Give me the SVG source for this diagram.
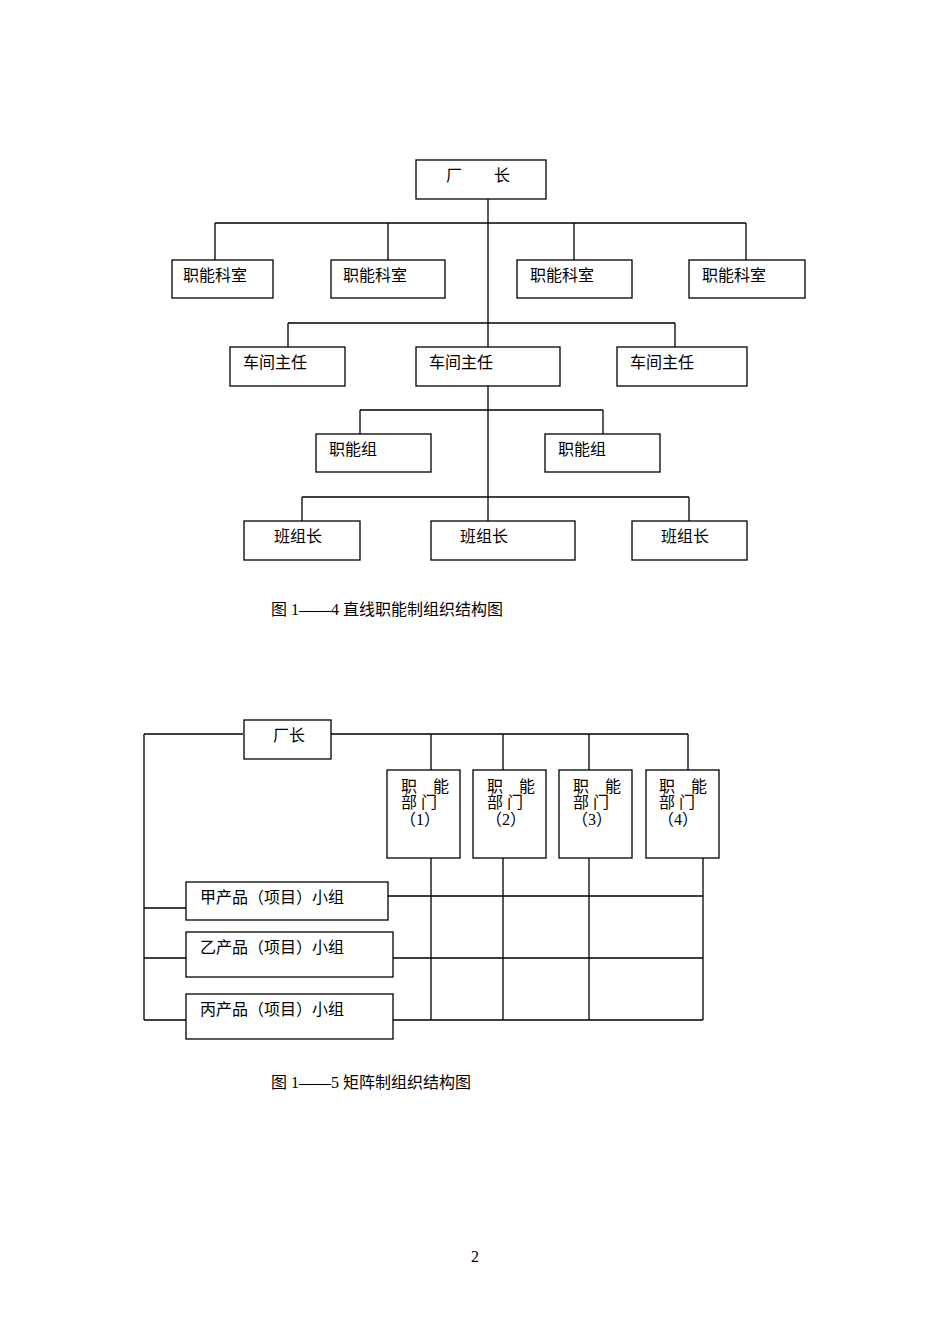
<svg xmlns="http://www.w3.org/2000/svg" width="950" height="1344" viewBox="0 0 950 1344">
<style>
rect{fill:#fff;stroke:#000;stroke-width:1.3}
line,path{stroke:#000;stroke-width:1.3;fill:none}
text{font-family:"Liberation Serif","Noto Sans CJK SC",serif;font-size:16px;fill:#000}
</style>
<rect x="0" y="0" width="950" height="1344" style="stroke:none"/>
<g id="connectors">
<path d="M488 199V521M215 223H746M215 223V260M388 223V260M574 223V260M746 223V260M288 323H675M288 323V347M675 323V347M360 410H603M360 410V434M603 410V434M302 497H689M302 497V521M689 497V521"/>
<path d="M144 734H243M331 734H688M431 734V770M503 734V770M589 734V770M688 734V770M144 734V1020M431 858V1020M503 858V1020M589 858V1020M703 858V1020M144 908H186M388 896H703M144 958H186M390 958H703M144 1020H186M390 1020H703"/>
</g>
<g id="n0"><rect x="416" y="160" width="130" height="39"/><text x="446" y="181">厂　　长</text></g>
<g id="n1"><rect x="172" y="260" width="101" height="38"/><text x="183" y="281">职能科室</text></g>
<g id="n2"><rect x="331" y="260" width="114" height="38"/><text x="343" y="281">职能科室</text></g>
<g id="n3"><rect x="517" y="260" width="115" height="38"/><text x="530" y="281">职能科室</text></g>
<g id="n4"><rect x="689" y="260" width="116" height="38"/><text x="702" y="281">职能科室</text></g>
<g id="n5"><rect x="230" y="347" width="115" height="39"/><text x="243" y="368">车间主任</text></g>
<g id="n6"><rect x="416" y="347" width="144" height="39"/><text x="429" y="368">车间主任</text></g>
<g id="n7"><rect x="617" y="347" width="130" height="39"/><text x="630" y="368">车间主任</text></g>
<g id="n8"><rect x="316" y="434" width="115" height="38"/><text x="329" y="455">职能组</text></g>
<g id="n9"><rect x="545" y="434" width="115" height="38"/><text x="558" y="455">职能组</text></g>
<g id="n10"><rect x="244" y="521" width="116" height="39"/><text x="274" y="542">班组长</text></g>
<g id="n11"><rect x="431" y="521" width="144" height="39"/><text x="460" y="542">班组长</text></g>
<g id="n12"><rect x="632" y="521" width="115" height="39"/><text x="661" y="542">班组长</text></g>
<text x="271" y="615">图 1——4  直线职能制组织结构图</text>
<g id="m0"><rect x="244" y="720" width="87" height="39"/><text x="273" y="741">厂长</text></g>
<g id="m1"><rect x="387" y="770" width="73" height="88"/><text x="401" y="792">职　能</text><text x="401" y="808">部 门</text><text x="400" y="825">（1）</text></g>
<g id="m2"><rect x="473" y="770" width="73" height="88"/><text x="487" y="792">职　能</text><text x="487" y="808">部 门</text><text x="486" y="825">（2）</text></g>
<g id="m3"><rect x="559" y="770" width="73" height="88"/><text x="573" y="792">职　能</text><text x="573" y="808">部 门</text><text x="572" y="825">（3）</text></g>
<g id="m4"><rect x="646" y="770" width="73" height="88"/><text x="659" y="792">职　能</text><text x="659" y="808">部 门</text><text x="658" y="825">（4）</text></g>
<g id="p1"><rect x="186" y="882" width="202" height="38"/><text x="200" y="903">甲产品（项目）小组</text></g>
<g id="p2"><rect x="186" y="932" width="207" height="45"/><text x="200" y="953">乙产品（项目）小组</text></g>
<g id="p3"><rect x="186" y="994" width="207" height="45"/><text x="200" y="1015">丙产品（项目）小组</text></g>
<text x="271" y="1088">图 1——5  矩阵制组织结构图</text>
<text x="471" y="1262">2</text>
</svg>
